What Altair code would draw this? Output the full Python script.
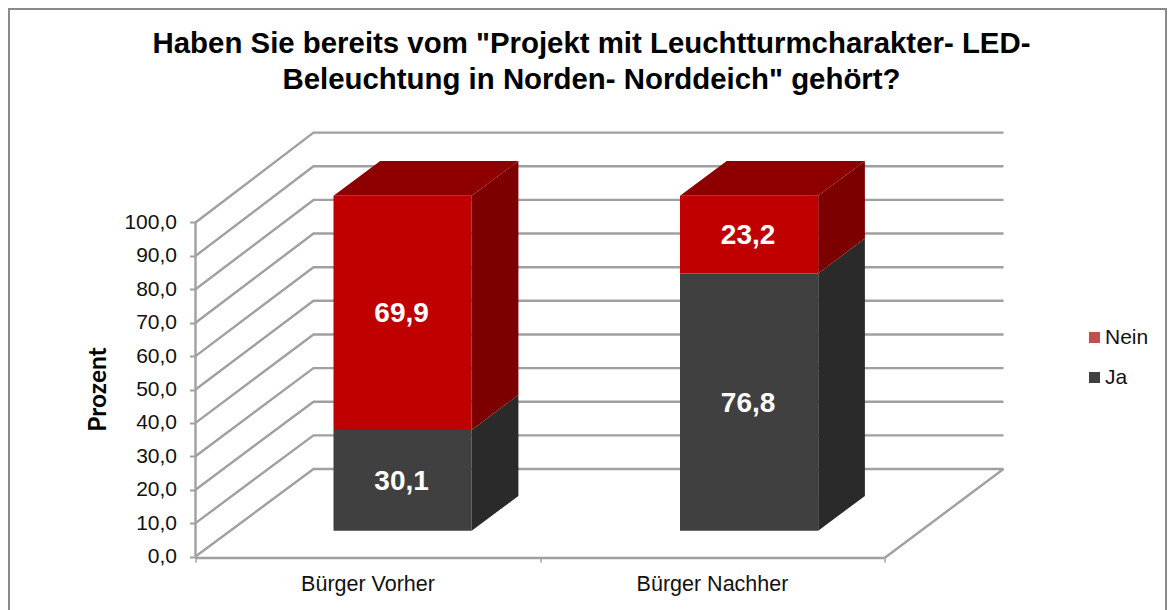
import altair as alt
import pandas as pd

# Chart values
title_lines = ['Haben Sie bereits vom "Projekt mit Leuchtturmcharakter- LED-',
               'Beleuchtung in Norden- Norddeich" gehört?']
categories = ["Bürger Vorher", "Bürger Nachher"]
series = ["Ja", "Nein"]
ja_values = [30.1, 76.8]
nein_values = [69.9, 23.2]
y_ticks = [0, 10, 20, 30, 40, 50, 60, 70, 80, 90, 100]
legend_order = ["Nein", "Ja"]
legend_colors = ["#C0504D", "#404040"]
front_colors = {"Ja": "#404040", "Nein": "#C00000"}
side_colors = {"Ja": "#2A2A2A", "Nein": "#7D0000"}
top_color = "#8E0000"
grid_color = "#A0A0A0"
text_font = "Liberation Sans"

# Pseudo-3D geometry, in the units of the two scales
plot_w, plot_h = 808, 424.5
y_unit = 3.34                    # px per percent
y_max = plot_h / y_unit
wall_dx, wall_dy, wall_scale = 118, 26.2, 1.007
floor_front = 689
bar_left = [138, 484.5]
bar_w = 138.2
bar_dx, bar_dy = 46.7, 10.45
bar_base, bar_scale = 7.7, 1.003
x_ticks = [0, 344.5, 689]
x_centers = [172, 516.5]

# Walls and floor
grid_rows = []
for v in y_ticks:
    back = wall_dy + v * wall_scale
    grid_rows += [dict(k=f"g{v}", x=0, y=v), dict(k=f"g{v}", x=wall_dx, y=back),
                  dict(k=f"g{v}", x=plot_w, y=back)]
grid_rows += [dict(k="floor", x=floor_front, y=-0.45), dict(k="floor", x=plot_w, y=wall_dy)]
grid_df = pd.DataFrame(grid_rows)
axis_df = pd.DataFrame([dict(x=0, x2=floor_front, y=-0.45, y2=-0.45),
                        dict(x=0, x2=0, y=0, y2=100)])

# Bar faces
front, faces, labels = [], [], []
for c, left, ja, nein in zip(categories, bar_left, ja_values, nein_values):
    right = left + bar_w
    start = bar_base
    for s, val in zip(series, (ja, nein)):
        end = start + val * bar_scale
        front.append(dict(x=left, x2=right, y=start, y2=end, fill=front_colors[s]))
        k = f"{c}-{s}-side"
        faces += [dict(k=k, x=right, y=start, y2=end, fill=side_colors[s]),
                  dict(k=k, x=right + bar_dx, y=start + bar_dy, y2=end + bar_dy, fill=side_colors[s])]
        labels.append(dict(x=(left + right) / 2, y=(start + end) / 2, v=val))
        start = end
    k = f"{c}-top"
    faces += [dict(k=k, x=left, y=start, y2=start, fill=top_color),
              dict(k=k, x=left + bar_dx, y=start, y2=start + bar_dy, fill=top_color),
              dict(k=k, x=right, y=start, y2=start + bar_dy, fill=top_color),
              dict(k=k, x=right + bar_dx, y=start + bar_dy, y2=start + bar_dy, fill=top_color)]
front_df, faces_df, labels_df = map(pd.DataFrame, (front, faces, labels))

x_scale = alt.Scale(domain=[0, plot_w], range=[0, plot_w], nice=False, zero=False)
y_scale = alt.Scale(domain=[0, y_max], nice=False, zero=False)
x_all = sorted(x_ticks + x_centers)
label_expr = " : ".join(f"datum.value == {p} ? '{c}'" for p, c in zip(x_centers, categories)) + " : ''"
tick_test = " || ".join(f"datum.value == {p}" for p in x_ticks)

x_enc = alt.X("x:Q", scale=x_scale, axis=alt.Axis(
    values=x_all, title=None, domain=False, grid=False, labelExpr=label_expr,
    tickOpacity={"condition": {"test": tick_test, "value": 1}, "value": 0},
    tickColor=grid_color, tickWidth=1.5, tickSize=4, offset=1.5, labelPadding=11, labelAngle=0,
    labelFont=text_font, labelFontSize=21.5, labelColor="#111111", labelFlush=False, labelOverlap=False))
y_enc = alt.Y("y:Q", scale=y_scale, axis=alt.Axis(
    values=y_ticks, title="Prozent", domain=False, grid=False,
    labelExpr="replace(format(datum.value, '.1f'), '.', ',')",
    tickColor=grid_color, tickWidth=2, tickSize=6, labelPadding=13,
    labelFont=text_font, labelFontSize=21, labelColor="#111111",
    titleFont="Lato", titleFontSize=24.5, titleFontWeight="bold", titleColor="#000000",
    titleX=-97.5, titleY=257, titleAngle=270, titleAlign="center", titleBaseline="middle"))

grid = alt.Chart(grid_df).mark_line(color=grid_color, strokeWidth=2.4).encode(x=x_enc, y=y_enc, detail="k:N")
axes = alt.Chart(axis_df).mark_rule(color=grid_color, strokeWidth=2.4).encode(
    x=alt.X("x:Q", scale=x_scale), x2="x2:Q", y=alt.Y("y:Q", scale=y_scale), y2="y2:Q")
side_top = alt.Chart(faces_df).mark_area(line=False, opacity=1).encode(
    x=alt.X("x:Q", scale=x_scale), y=alt.Y("y:Q", scale=y_scale), y2="y2:Q",
    detail="k:N", fill=alt.Fill("fill:N", scale=None))
fronts = alt.Chart(front_df).mark_rect().encode(
    x=alt.X("x:Q", scale=x_scale), x2="x2:Q", y=alt.Y("y:Q", scale=y_scale), y2="y2:Q",
    fill=alt.Fill("fill:N", scale=None))
texts = alt.Chart(labels_df).transform_calculate(
    t="replace(format(datum.v, '.1f'), '.', ',')"
).mark_text(font=text_font, fontSize=28, fontWeight="bold", color="#FFFFFF", dx=-1, dy=1.5).encode(
    x=alt.X("x:Q", scale=x_scale), y=alt.Y("y:Q", scale=y_scale), text="t:N")
legend_src = alt.Chart(pd.DataFrame({"s": legend_order})).mark_square(opacity=0).encode(
    x=alt.value(0), y=alt.value(0),
    color=alt.Color("s:N", scale=alt.Scale(domain=legend_order, range=legend_colors), sort=None,
                    legend=alt.Legend(title=None, orient="none", legendX=888.5, legendY=195,
                                      symbolType="square", symbolSize=121, symbolOpacity=1,
                                      symbolStrokeWidth=0, labelFont=text_font, labelFontSize=21,
                                      labelColor="#111111", rowPadding=18, labelOffset=0)))
frame = alt.Chart(pd.DataFrame({"k": [0]})).mark_rect(
    fill="transparent", stroke="#8A8A8A", strokeWidth=2).encode(
    x=alt.value(-186.5), x2=alt.value(970.5), y=alt.value(-123), y2=alt.value(495))

chart = alt.layer(frame, grid, axes, side_top, fronts, texts, legend_src).properties(
    width=plot_w, height=plot_h,
    padding={"left": 187.5, "top": 124, "right": 164.5, "bottom": 53.5},
    autosize=alt.AutoSizeParams(type="none"),
    background="#FFFFFF",
    title=alt.TitleParams(text=title_lines, anchor="middle", frame="group", dx=-8, offset=-87,
                          font=text_font, fontSize=29.4, fontWeight="bold", color="#000000",
                          lineHeight=36),
).configure_view(stroke=None)

chart.save("out.html", embed_options={"renderer": "svg", "actions": False})
